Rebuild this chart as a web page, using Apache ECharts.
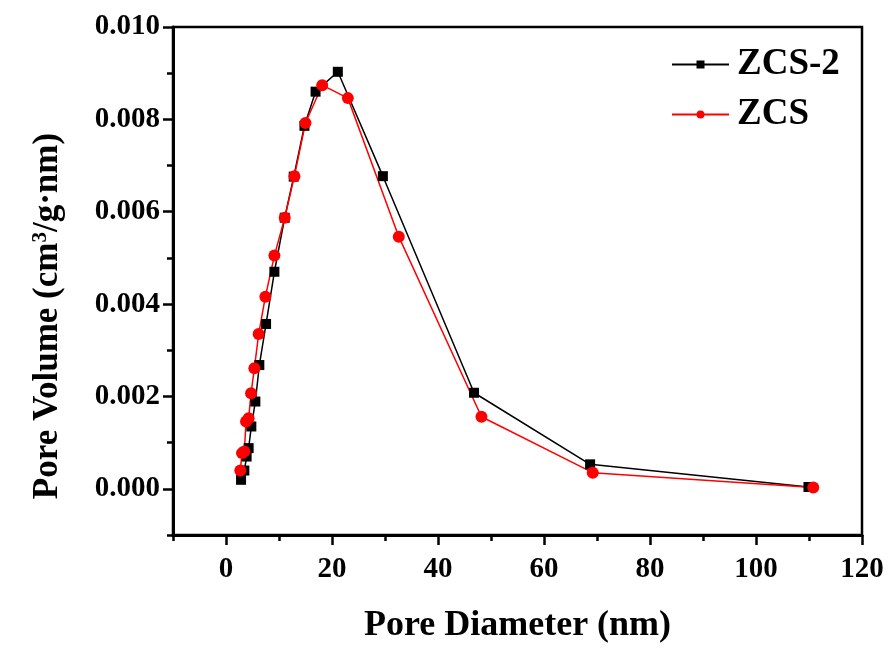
<!DOCTYPE html>
<html>
<head>
<meta charset="utf-8">
<script src="https://cdn.jsdelivr.net/npm/echarts@6/dist/echarts.min.js"></script>
<style>
 html, body { margin: 0; padding: 0; background: #fff; }
 #chart { width: 889px; height: 649px; }
</style>
</head>
<body>
<div id="chart"></div>
<script>
 // ZCS-2 (black squares)
 var zcs2Diameter = [2.84, 3.46, 3.89, 4.27, 4.78, 5.54, 6.29, 7.56, 9.13, 11.08, 12.78, 14.8, 16.9, 21.1, 29.6, 46.8, 68.7, 109.9];
 var zcs2Volume = [0.000195, 0.000396, 0.000699, 0.000881, 0.00135, 0.00189, 0.00268, 0.00357, 0.0047, 0.00587, 0.00676, 0.00786, 0.0086, 0.00903, 0.00677, 0.00208, 0.00053, 0.00004];

 // ZCS (red circles)
 var zcsDiameter = [2.70, 3.02, 3.46, 3.78, 4.27, 4.73, 5.35, 6.16, 7.43, 9.13, 11.08, 12.91, 14.99, 18.15, 22.99, 32.6, 48.2, 69.2, 110.8];
 var zcsVolume = [0.000396, 0.000773, 0.000807, 0.001457, 0.00153, 0.00207, 0.00261, 0.00335, 0.00416, 0.00505, 0.00587, 0.00677, 0.00792, 0.00874, 0.00846, 0.00546, 0.00156, 0.00035, 0.00003];

 var xTicks = [0, 20, 40, 60, 80, 100, 120];
 var yTicks = [0, 0.002, 0.004, 0.006, 0.008, 0.010];

 function pairs(xs, ys) {
  var out = [];
  for (var i = 0; i < xs.length; i++) {
   out.push([xs[i], ys[i]]);
  }
  return out;
 }

 var font = "'Liberation Serif', 'Times New Roman', serif";

 var myChart = echarts.init(document.getElementById("chart"));
 var option = {
  animation: false,
  backgroundColor: '#fff',
  grid: {
   left: 173, right: 27, top: 27, bottom: 114,
   show: true, borderColor: '#000', borderWidth: 2.5
  },
  legend: {
   orient: 'vertical',
   left: 666,
   top: 41,
   itemWidth: 57,
   itemHeight: 10,
   itemGap: 13,
   textStyle: { fontFamily: font, fontWeight: 'bold', fontSize: 37, color: '#000', padding: [0, 0, 0, 3] },
   data: ['ZCS-2', 'ZCS']
  },
  xAxis: [{
   type: 'value', min: -10, max: 120,
   name: 'Pore Diameter (nm)', nameLocation: 'middle', nameGap: 73,
   nameTextStyle: { fontFamily: font, fontWeight: 'bold', fontSize: 36, color: '#000' },
   axisLine: { onZero: false, lineStyle: { color: '#000', width: 3 } },
   axisTick: { show: true, length: 10, lineStyle: { color: '#000', width: 2.5 }, customValues: xTicks },
   axisLabel: { customValues: xTicks, margin: 20, fontFamily: font, fontWeight: 'bold', fontSize: 29, color: '#000' },
   splitLine: { show: false }
  }, {
   type: 'value', min: -10, max: 120, interval: 10, position: 'bottom',
   axisLine: { show: false, onZero: false },
   axisTick: { show: true, length: 6, lineStyle: { color: '#000', width: 2.5 } },
   axisLabel: { show: false },
   splitLine: { show: false }
  }],
  yAxis: [{
   type: 'value', min: -0.001, max: 0.010,
   name: 'Pore Volume (cm{sup|3}/g·nm)', nameLocation: 'middle', nameGap: 108, nameRotate: 90,
   nameTextStyle: {
    fontFamily: font, fontWeight: 'bold', fontSize: 35, color: '#000',
    padding: [0, 70, 0, 0],
    rich: { sup: { fontFamily: font, fontWeight: 'bold', fontSize: 21, color: '#000', verticalAlign: 'top', padding: [0, 0, 14, 0] } }
   },
   axisLine: { onZero: false, lineStyle: { color: '#000', width: 3 } },
   axisTick: { show: true, length: 10, lineStyle: { color: '#000', width: 2.5 }, customValues: yTicks },
   axisLabel: {
    customValues: yTicks, margin: 13, fontFamily: font, fontWeight: 'bold', fontSize: 29, color: '#000',
    formatter: function(v) { return v.toFixed(3); }
   },
   splitLine: { show: false }
  }, {
   type: 'value', min: -0.001, max: 0.010, interval: 0.001, position: 'left',
   axisLine: { show: false, onZero: false },
   axisTick: { show: true, length: 6, lineStyle: { color: '#000', width: 2.5 } },
   axisLabel: { show: false },
   splitLine: { show: false }
  }],
  series: [{
   name: 'ZCS-2',
   type: 'line',
   xAxisIndex: 0, yAxisIndex: 0,
   symbol: 'rect', symbolSize: 10,
   itemStyle: { color: '#000' },
   lineStyle: { color: '#000', width: 1.5 },
   data: pairs(zcs2Diameter, zcs2Volume)
  }, {
   name: 'ZCS',
   type: 'line',
   xAxisIndex: 0, yAxisIndex: 0,
   symbol: 'circle', symbolSize: 12,
   itemStyle: { color: '#ff0000' },
   lineStyle: { color: '#ff0000', width: 1.5 },
   data: pairs(zcsDiameter, zcsVolume)
  }]
 };
 myChart.setOption(option, true);
</script>
</body>
</html>
